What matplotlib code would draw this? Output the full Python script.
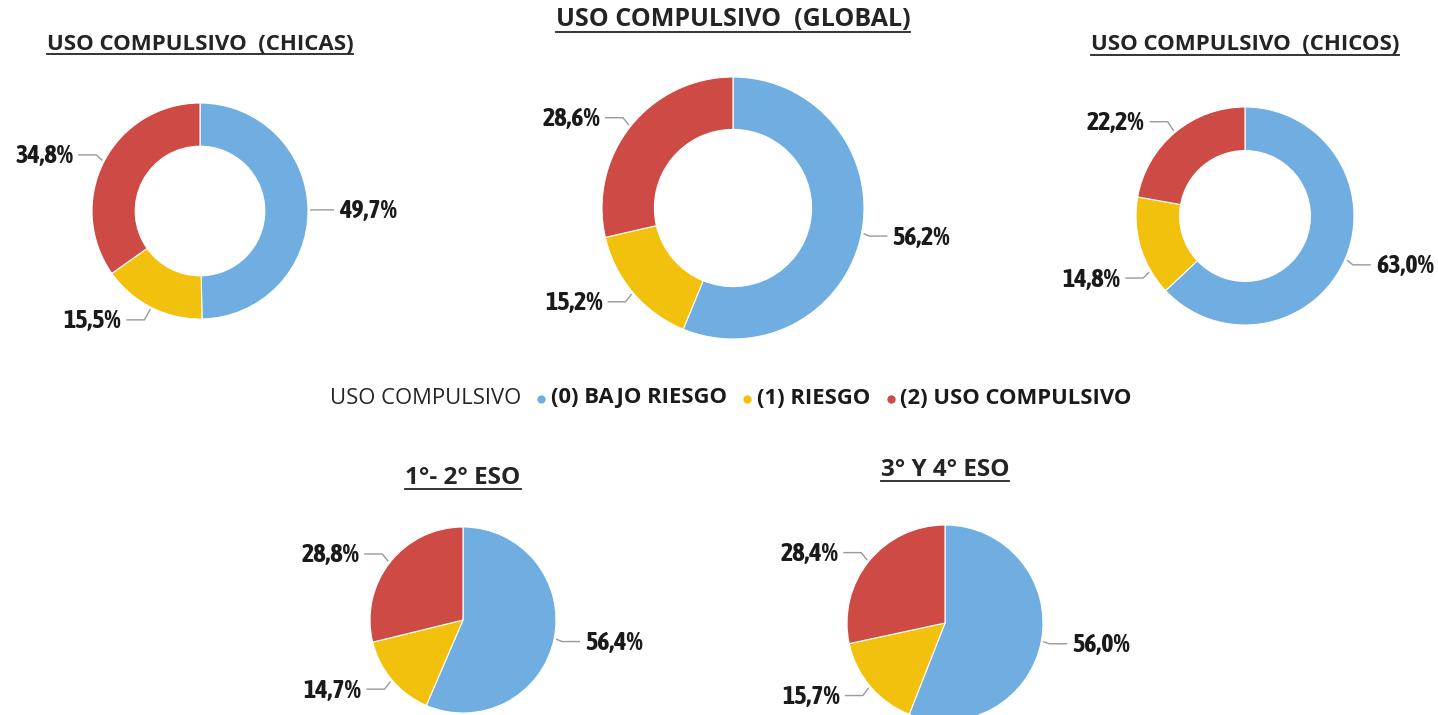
import numpy as np
import matplotlib
matplotlib.use("Agg")
import matplotlib.pyplot as plt
import matplotlib.font_manager as fm

# data (percent)
categorias = ["(0) BAJO RIESGO", "(1) RIESGO", "(2) USO COMPULSIVO"]
chicas = [49.7, 15.5, 34.8]
global_ = [56.2, 15.2, 28.6]
chicos = [63.0, 14.8, 22.2]
eso_12 = [56.4, 14.7, 28.8]
eso_34 = [56.0, 15.7, 28.4]

titulos = ["USO COMPULSIVO  (CHICAS)", "USO COMPULSIVO  (GLOBAL)",
           "USO COMPULSIVO  (CHICOS)", "1°- 2° ESO", "3° Y 4° ESO"]
legend_title = "USO COMPULSIVO"

colores = ["#70ADE0", "#F2C10E", "#CE4B45"]


# look for a narrow face for the numbers (DIN-like in the original)
def condensed_face():
    rank = {"semi-condensed": 0, "condensed": 1, "extra-condensed": 2}
    best = None
    for f in fm.fontManager.ttflist:
        if f.style != "normal" or "Mono" in f.name:
            continue
        narrow = "Narrow" in f.name or "Condensed" in f.name or f.stretch in rank
        if not narrow:
            continue
        w = f.weight if isinstance(f.weight, int) else (700 if "bold" in str(f.weight) else 400)
        if w < 600:
            continue
        score = (rank.get(f.stretch, 1), "DejaVu" in f.name, abs(w - 700))
        if best is None or score < best[0]:
            best = (score, f.fname)
    return best[1] if best else None


fb = condensed_face()
if fb:
    num_bold = fm.FontProperties(fname=fb, size=16)
else:
    num_bold = fm.FontProperties(family="Roboto", weight="bold", size=14)
leg_norm = fm.FontProperties(family=["Open Sans", "DejaVu Sans"], size=14)
leg_bold = fm.FontProperties(family=["Open Sans", "DejaVu Sans"], weight="bold", size=14)

W, H = 1438, 715
fig = plt.figure(figsize=(W / 100, H / 100), dpi=100)
ax = fig.add_axes([0, 0, 1, 1])
ax.set_xlim(0, W)
ax.set_ylim(H, 0)
renderer = fig.canvas.get_renderer()
inv = ax.transData.inverted()


def width_of(t):
    bb = t.get_window_extent(renderer)
    p0 = inv.transform((bb.x0, bb.y0))
    p1 = inv.transform((bb.x1, bb.y1))
    return p1[0] - p0[0]


# size the number font so a label is as wide as in the picture (~58 px)
probe = ax.text(0, 0, "49,7%", fontproperties=num_bold)
num_bold.set_size(num_bold.get_size() * 58 / width_of(probe))
probe.remove()

title_font = ["Open Sans", "DejaVu Sans"]

# layout: centre x, centre y, radius, hole (0 = full pie), title y, title size
layout = [
    (chicas, titulos[0], 200, 211, 108, 0.4, 44, 16),
    (global_, titulos[1], 733, 208, 131, 0.4, 20, 18),
    (chicos, titulos[2], 1245, 216, 109, 0.4, 45, 16),
    (eso_12, titulos[3], 463, 620, 93, 0, 478, 17.5),
    (eso_34, titulos[4], 945, 623, 98, 0, 470, 17.5),
]
# Power BI pushed one label down (chicos, riesgo)
label_nudge = {(2, 1): 27}

title_objs = []
for i, (vals, titulo, cx, cy, R, hole, ty, tsize) in enumerate(layout):
    wp = dict(edgecolor="white", linewidth=0.8)
    if hole:
        wp["width"] = R * hole
    wedges, _ = ax.pie(vals, colors=colores, startangle=-90, counterclock=True,
                       center=(cx, cy), radius=R, wedgeprops=wp)
    for j, (w, v) in enumerate(zip(wedges, vals)):
        mid = np.deg2rad((w.theta1 + w.theta2) / 2)
        side = 1 if np.cos(mid) >= 0 else -1
        ly = cy + (R + 14) * np.sin(mid) + label_nudge.get((i, j), 0)
        s = np.clip((ly - cy) / (R + 14), -1, 1)
        x0 = cx + side * (R + 2) * np.sqrt(1 - s ** 2)
        y0 = cy + (R + 2) * s
        ax.plot([x0, x0 + side * 6, x0 + side * 24], [y0, ly, ly],
                color="#9A9A9A", lw=1, solid_capstyle="butt")
        ax.text(x0 + side * 29, ly + 1, f"{v:.1f}%".replace(".", ","),
                ha="left" if side > 0 else "right", va="center",
                fontproperties=num_bold, color="#1A1A1A")
    t = ax.text(cx, ty, titulo, ha="center", va="center", fontsize=tsize,
                fontweight="bold", family=title_font, color="#252423")
    title_objs.append(t)

ax.set_xlim(0, W)
ax.set_ylim(H, 0)
ax.set_aspect("auto")
ax.axis("off")

# legend row, spanning about x = 330..1133 in the picture
ly = 398
parts = [ax.text(0, ly, legend_title, ha="left", va="center",
                 fontproperties=leg_norm, color="#252423")]
for cat in categorias:
    parts.append(ax.text(0, ly, cat, ha="left", va="center",
                         fontproperties=leg_bold, color="#1A1A1A"))
gaps = 3 * (20 + 10)
widths = [width_of(p) for p in parts]
scale = (803 - gaps) / sum(widths)
for p in parts:
    p.set_fontsize(p.get_fontsize() * scale)
widths = [width_of(p) for p in parts]
x = 330
parts[0].set_x(x)
x += widths[0]
for k, col in enumerate(colores):
    ax.scatter([x + 20], [ly + 1], s=36, color=col, zorder=3, linewidths=0)
    x += 30
    parts[k + 1].set_x(x)
    x += widths[k + 1]

# underline titles
for t in title_objs:
    bb = t.get_window_extent(renderer)
    p0 = inv.transform((bb.x0, bb.y0))
    p1 = inv.transform((bb.x1, bb.y1))
    ax.plot([p0[0], p1[0]], [p0[1] - 1, p0[1] - 1], color="#252423", lw=1.3)

fig.savefig("out.png", dpi=100, facecolor="white")
